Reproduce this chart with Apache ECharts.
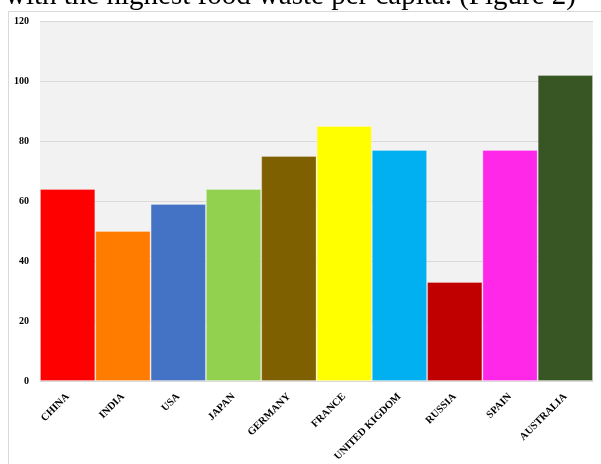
<!DOCTYPE html>
<html>
<head>
<meta charset="utf-8">
<script src="https://cdn.jsdelivr.net/npm/echarts@6/dist/echarts.min.js"></script>
<style>
  html, body { margin: 0; padding: 0; background: #fff; }
  #chart { width: 601px; height: 464px; }
</style>
</head>
<body>
<div id="chart"></div>
<script>
// Food waste per capita by country (kg / year)
const countries = ['CHINA', 'INDIA', 'USA', 'JAPAN', 'GERMANY', 'FRANCE', 'UNITED KIGDOM', 'RUSSIA', 'SPAIN', 'AUSTRALIA'];
const wastePerCapita = [64, 50, 59, 64, 75, 85, 77, 33, 77, 102];
const barColors = ['#ff0000', '#ff7c00', '#4472c4', '#92d050', '#7f6000', '#ffff00', '#00b0f0', '#c00000', '#ff28e8', '#375623'];
const captionText = 'with the highest food waste per capita. (Figure 2)';

const chart = echarts.init(document.getElementById('chart'), null, { renderer: 'canvas' });

chart.setOption({
  animation: false,
  backgroundColor: '#ffffff',
  graphic: [
    {
      type: 'text',
      x: 5,
      y: 11,
      style: {
        text: captionText,
        font: '29px "Liberation Serif", "Times New Roman", serif',
        fill: '#000',
        verticalAlign: 'bottom'
      }
    },
    {
      type: 'polyline',
      shape: { points: [[8.5, 464], [8.5, 11.5], [601, 11.5]] },
      style: { stroke: '#d9d9d9', lineWidth: 1, fill: null }
    }
  ],
  grid: {
    left: 40,
    right: 8,
    top: 21,
    bottom: 83,
    containLabel: false,
    outerBoundsMode: 'none',
    show: true,
    backgroundColor: '#f2f2f2',
    borderWidth: 0
  },
  xAxis: {
    type: 'category',
    data: countries,
    axisLine: { show: true, lineStyle: { color: '#d9d9d9' } },
    axisTick: { show: false },
    axisLabel: {
      rotate: 45,
      interval: 0,
      margin: 14,
      color: '#000',
      fontFamily: '"Liberation Serif", "Times New Roman", serif',
      fontWeight: 'bold',
      fontSize: 10.5
    }
  },
  yAxis: {
    type: 'value',
    min: 0,
    max: 120,
    interval: 20,
    axisLine: { show: false },
    axisTick: { show: false },
    splitLine: { lineStyle: { color: '#d9d9d9', width: 1 } },
    axisLabel: {
      margin: 11,
      color: '#000',
      fontFamily: '"Liberation Serif", "Times New Roman", serif',
      fontWeight: 'bold',
      fontSize: 10
    }
  },
  series: [{
    type: 'bar',
    data: wastePerCapita.map((v, i) => ({ value: v, itemStyle: { color: barColors[i] } })),
    barCategoryGap: '0%',
    itemStyle: { borderColor: 'rgba(255,255,255,0.25)', borderWidth: 1 }
  }]
});
</script>
</body>
</html>
